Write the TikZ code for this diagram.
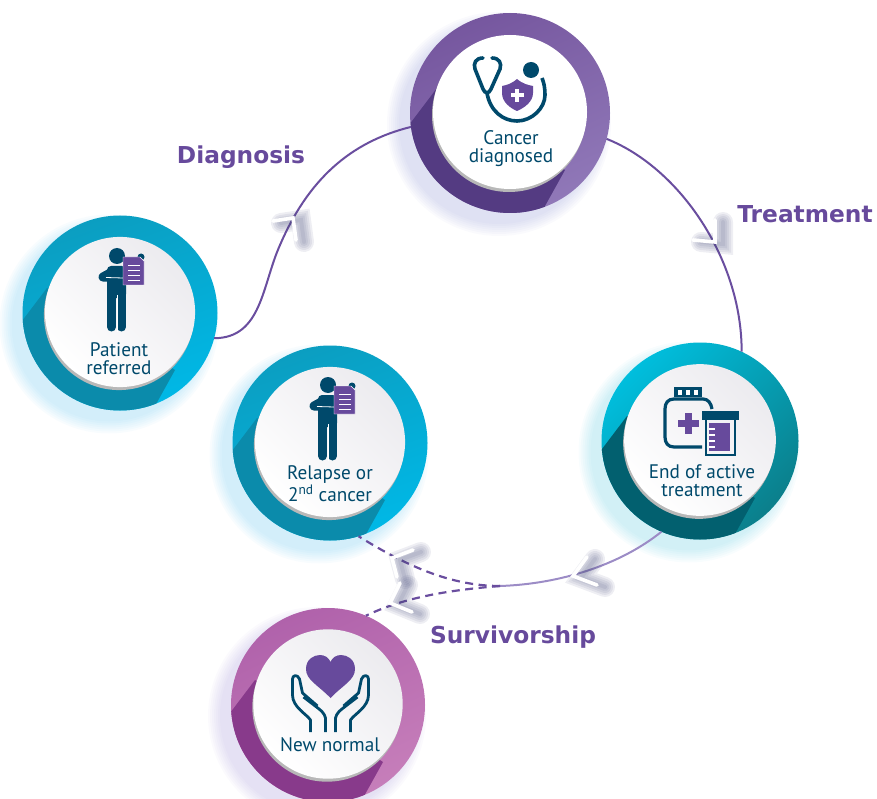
\documentclass[tikz,border=0pt]{standalone}
\usepackage{fontspec}
\setmainfont[FakeStretch=0.98]{PT Sans}
\newfontfamily\headfont{DejaVu Sans}
\usetikzlibrary{calc}

\definecolor{navyicon}{HTML}{00496B}
\definecolor{purpleicon}{HTML}{674A9C}
\definecolor{pathline}{HTML}{6A4E9F}
\definecolor{pathlight}{HTML}{9C8CC6}
\definecolor{discgrey}{HTML}{ECEBEF}

\definecolor{violeta}{HTML}{76579F}
\definecolor{violetm}{HTML}{684694}
\definecolor{violetb}{HTML}{9078B8}
\definecolor{violetw}{HTML}{543B82}
\definecolor{violetg}{HTML}{6F78C8}
\definecolor{bluea}{HTML}{0B9EC1}
\definecolor{bluem}{HTML}{0A97B8}
\definecolor{blueb}{HTML}{00B8E6}
\definecolor{bluew}{HTML}{0B8BAB}
\definecolor{blueg}{HTML}{39B4EA}
\definecolor{teala}{HTML}{00BEDD}
\definecolor{tealm}{HTML}{0AA0B5}
\definecolor{tealb}{HTML}{0B7F8B}
\definecolor{tealw}{HTML}{02606F}
\definecolor{tealg}{HTML}{35BCD8}
\definecolor{pluma}{HTML}{B062AB}
\definecolor{plumm}{HTML}{A3549E}
\definecolor{plumb}{HTML}{C67EBA}
\definecolor{plumw}{HTML}{883A8B}
\definecolor{plumg}{HTML}{8A78CC}

\tikzset{
	ringnode/.style={circle,inner sep=0pt,outer sep=0pt},
	stagelabel/.style={text=navyicon,align=center,font=\fontsize{19.6}{18}\selectfont},
	phaselabel/.style={text=purpleicon,font=\headfont\bfseries\fontsize{23.3}{26}\selectfont},
	pathsolid/.style={draw=pathline,line width=2pt},
	pathdash/.style={draw=pathline,line width=2.2pt,dash pattern=on 8pt off 5.5pt},
	chevron/.style={draw=white,line width=3.6pt,line cap=round},
	personicon/.pic={
		\fill[navyicon] (-3,-57) circle (8);
		\fill[navyicon,rounded corners=4pt] (-13,-47) -- (6,-47) -- (6,-15) -- (-13,-15) -- cycle;
		\draw[navyicon,line width=9pt,line cap=round] (-8.5,-20) -- (-8.5,14);
		\draw[navyicon,line width=9pt,line cap=round] (1.5,-20) -- (1.5,14);
		\draw[navyicon,line width=9pt,line cap=round,line join=round] (-6,-42) -- (-17,-36) -- (3,-35);
		\draw[white,line width=.8pt] (-3,-18) -- (-3,19);
		\draw[white,line width=.8pt] (-14,-35.5) -- (3,-35);
		\fill[navyicon] (21,-56) circle (3.5);
		\fill[purpleicon,draw=white,line width=.4pt] (3,-56) -- (20,-56) -- (24,-52) -- (24,-28) -- (3,-28) -- cycle;
		\foreach \liney in {-48,-43,-38,-33}
			\draw[white,line width=.8pt] (8,\liney) -- (20,\liney);
	},
	scopeicon/.pic={
		\draw[navyicon,line width=3.6pt,line cap=round] (-27,-55) .. controls (-34,-55) and (-37,-50) .. (-35,-44) -- (-27,-24)
			.. controls (-25,-19) and (-21,-19) .. (-19,-24) -- (-10,-44) .. controls (-8,-50) and (-11,-55) .. (-18,-55);
		\draw[navyicon,line width=3.6pt] (-23,-20) .. controls (-20,-2) and (-7,8) .. (7,8) .. controls (22,8) and (35,-5) .. (35,-18)
			.. controls (35,-25) and (34,-30) .. (32,-35);
		\fill[navyicon] (21,-43) circle (8);
		\fill[purpleicon] (7,-34) .. controls (1,-29) and (-3,-28) .. (-8,-27) -- (-8,-20) .. controls (-8,-11) and (0,-5) .. (7,-2)
			.. controls (14,-5) and (23,-11) .. (23,-20) -- (23,-27) .. controls (18,-28) and (13,-29) .. (7,-34) -- cycle;
		\fill[white] (5,-24) rectangle (9,-11);
		\fill[white] (0.5,-19.5) rectangle (13.5,-15.5);
	},
	bottleicon/.pic={
		\fill[navyicon] (-26,-54) rectangle (2,-44);
		\foreach \capx in {-22,-14,-6}
			\fill[white] (\capx,-51) rectangle (\capx+4,-46);
		\draw[navyicon,line width=3.2pt] (12,-32) .. controls (11,-38) and (8,-42) .. (3,-42) -- (-26,-42)
			.. controls (-32,-42) and (-35,-38) .. (-35,-32) -- (-35,-4) .. controls (-35,2) and (-32,6) .. (-26,6) -- (2,6);
		\fill[purpleicon] (-15.5,-28) rectangle (-8.5,-7);
		\fill[purpleicon] (-22,-21) rectangle (-1,-14);
		\fill[navyicon] (2,-30) rectangle (39,-21);
		\draw[navyicon,line width=2.6pt] (6,-21) -- (6,14) -- (35,14) -- (35,-21);
		\fill[purpleicon] (9,-18) rectangle (30,10);
		\foreach \ticky in {-13,-7,-1,5}
			\fill[white] (9,\ticky) rectangle (15,\ticky+1.6);
	},
	hearticon/.pic={
		\fill[purpleicon] (2.5,-7) .. controls (-10,-20) and (-22,-25) .. (-22,-36) .. controls (-22,-46) and (-14,-50) .. (-8,-50)
			.. controls (-3,-50) and (1,-47) .. (2.5,-43) .. controls (4,-47) and (8,-50) .. (13,-50)
			.. controls (19,-50) and (27,-46) .. (27,-36) .. controls (27,-25) and (15,-20) .. (2.5,-7) -- cycle;
		\foreach \side in {1,-1}{
			\begin{scope}[shift={(2.5,0)},xscale=\side]
				\draw[navyicon,line width=2.8pt,line join=round] (-20,27) -- (-20,15) .. controls (-24,9) and (-38,2) .. (-38,-10)
					-- (-38,-26) .. controls (-38,-30) and (-33,-31) .. (-31,-26) -- (-28,-12) -- (-13,1);
				\draw[navyicon,line width=2.8pt,line join=round] (-5,27) -- (-5,13) .. controls (-6,8) and (-10,5) .. (-14,2) -- (-27,-8);
			\end{scope}
		}
	}
}

% ring, cast wedge, glow and inner disc of one stage
\newcommand{\stagecircle}[7]{
	\foreach \g in {12,10,...,0}
		\fill[#5g,opacity=.035] (#2-11,#3+11) circle ({#4/2+\g});
	\node[ringnode,minimum size=#4pt,shade,left color=#5a,middle color=#5m,right color=#5b,shading angle=#7] (#1) at (#2,#3) {};
	\begin{scope}
		\clip (#1.center) circle ({#4/2});
		\fill[#5w,shift={(#1.center)}] (-73,-25) -- (-101,12) -- (-101,110) -- (35,110) -- (35,93) -- (55,57) -- cycle;
	\end{scope}
	\fill[black!28] (#2-1,#3+2) circle ({.385*#4});
	\node[ringnode,minimum size=.77*#4pt,shade,left color=white,right color=#6,shading angle=135] (#1disc) at (#2,#3-1) {};
}

\begin{document}
\begin{tikzpicture}[x=1pt,y=-1pt]
	\useasboundingbox (0,0) rectangle (877,799);
	
	\stagecircle{referred}{120}{313}{195}{blue}{discgrey}{20}
	\stagecircle{diagnosed}{510}{113}{200}{violet}{white}{25}
	\stagecircle{treated}{700}{441}{197}{teal}{discgrey}{45}
	\stagecircle{relapse}{330}{443}{195}{blue}{discgrey}{20}
	\stagecircle{normal}{328}{705}{194}{plum}{discgrey}{25}
	
	\coordinate (split) at (500,586);
	
	\draw[pathsolid] (referred.-15) .. controls (262,338) and (262,285) .. (280,245) .. controls (308,180) and (350,142) .. (diagnosed.188);
	\draw[pathsolid] (diagnosed.-15) .. controls (680,168) and (742,260) .. (treated.65);
	\draw[draw=pathlight,line width=2pt] (treated.-113) .. controls (620,565) and (560,584) .. (split);
	\draw[pathdash] (split) .. controls (450,586) and (405,565) .. (relapse.-73);
	\draw[pathdash] (split) .. controls (450,590) and (405,597) .. (normal.67);
	
	% arrowheads: tip, then the two arms
	\foreach \tx/\ty/\ax/\ay/\bx/\by in {293/218/-20/3/3/22, 715/242/0/-22/-22/-2, 573/576/14/-19/24/9, 392/558/21/-8/5/19, 390/603/10/-20/22/9}{
		\foreach \w in {20,16,12,8,4}
			\draw[color=violetg!60!black,opacity=.09,line width=\w pt,line cap=round] (\tx+\ax+8,\ty+\ay+2) -- (\tx+8,\ty+2) -- (\tx+\bx+8,\ty+\by+2);
		\draw[chevron] (\tx+\ax,\ty+\ay) -- (\tx,\ty) -- (\tx+\bx,\ty+\by);
	}
	
	\pic at (120,313) {personicon};
	\pic at (331,442) {personicon};
	\pic at (510,113) {scopeicon};
	\pic at (700,441) {bottleicon};
	\pic at (328,705) {hearticon};
	
	\node[stagelabel] (referredtext) at (119,359) {Patient\\referred};
	\node[stagelabel] (diagnosedtext) at (511,149) {Cancer\\diagnosed};
	\node[stagelabel] (treatedtext) at (702,481) {End of active\\treatment};
	\node[stagelabel] (relapsetext) at (330,484) {Relapse or\\2\textsuperscript{nd} cancer};
	\node[stagelabel] (normaltext) at (330,745) {New normal};
	
	\node[phaselabel] (diagnosishead) at (241,157.5) {Diagnosis};
	\node[phaselabel] (treatmenthead) at (805,214) {Treatment};
	\node[phaselabel] (survivorshiphead) at (513,637) {Survivorship};
\end{tikzpicture}
\end{document}
